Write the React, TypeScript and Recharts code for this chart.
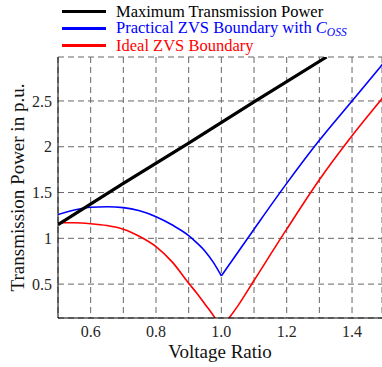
import React from "react";
import {
  LineChart,
  Line,
  XAxis,
  YAxis,
  CartesianGrid,
} from "recharts";

// values
const maxPowerRatio = [0.5, 0.7, 0.9, 1.1, 1.322];
const maxPower = [1.15, 1.6, 2.04, 2.49, 2.98];

const practicalRatio = [0.5, 0.55, 0.6, 0.65, 0.7, 0.75, 0.8, 0.85, 0.9, 0.925, 0.95, 0.975, 1.0, 1.1, 1.2, 1.3, 1.4, 1.5];
const practicalZvs = [1.26, 1.31, 1.34, 1.345, 1.335, 1.3, 1.235, 1.145, 1.03, 0.95, 0.86, 0.74, 0.59, 1.1, 1.6, 2.07, 2.5, 2.93];

const idealRatio = [0.5, 0.55, 0.6, 0.65, 0.7, 0.75, 0.8, 0.85, 0.9, 0.925, 0.95, 0.975, 1.0, 1.05, 1.1, 1.2, 1.3, 1.4, 1.5];
const idealZvs = [1.17, 1.17, 1.16, 1.14, 1.1, 1.02, 0.91, 0.74, 0.51, 0.4, 0.28, 0.16, 0.02, 0.26, 0.54, 1.1, 1.64, 2.12, 2.56];

const xTicks = [0.6, 0.7, 0.8, 0.9, 1.0, 1.1, 1.2, 1.3, 1.4];
const yTicks = [0.5, 1, 1.5, 2, 2.5];

const toPoints = (xs: number[], ys: number[]) => xs.map((x, i) => ({ x, y: ys[i] }));
// the ZVS curves have a sharp corner at ratio 1.0, so each side is drawn on its own
const leftOf = (xs: number[], ys: number[]) => toPoints(xs, ys).filter((p) => p.x <= 1.0);
const rightOf = (xs: number[], ys: number[]) => toPoints(xs, ys).filter((p) => p.x >= 1.0);

const FONT = "Liberation Serif";

const legendRows = [
  { color: "#000000", label: <>Maximum Transmission Power</> },
  {
    color: "#0000ff",
    label: (
      <>
        Practical ZVS Boundary with <i>C</i>
        <i style={{ fontSize: "0.7em", position: "relative", top: "0.3em" }}>OSS</i>
      </>
    ),
  },
  { color: "#ff0000", label: <>Ideal ZVS Boundary</> },
];

const App = () => {
  const tickStyle = { fontFamily: FONT, fontSize: 16, fill: "#262626" };
  const thin = { strokeWidth: 1.6, dot: false, isAnimationActive: false, dataKey: "y", type: "monotone" as const };

  return (
    <div style={{ position: "absolute", left: 0, top: 0, width: 382, height: 367 }}>
      <div style={{ position: "absolute", left: 62, top: 3, fontFamily: FONT, fontSize: 16.5, lineHeight: "17px" }}>
        {legendRows.map((row, i) => (
          <div key={i} style={{ display: "flex", alignItems: "center", height: 17, color: row.color }}>
            <span style={{ display: "inline-block", width: 44, height: 3, background: row.color, marginRight: 10 }} />
            <span style={{ whiteSpace: "nowrap" }}>{row.label}</span>
          </div>
        ))}
      </div>

      <LineChart width={382} height={367} margin={{ top: 57, right: 0, bottom: 9, left: 0 }}>
        <CartesianGrid stroke="#666" strokeDasharray="6 4" strokeWidth={1} />
        <XAxis
          type="number"
          dataKey="x"
          domain={[0.5, 1.4917]}
          allowDataOverflow
          ticks={xTicks}
          interval={0}
          tickFormatter={(v: number) => (Math.round(v * 10) % 2 === 0 ? v.toFixed(1) : "")}
          tickLine={false}
          tickSize={0}
          tickMargin={8}
          height={40}
          axisLine={{ stroke: "#000" }}
          tick={tickStyle}
          label={{
            content: ({ viewBox }: any) => (
              <text
                x={viewBox.x + viewBox.width / 2}
                y={viewBox.y + 40}
                textAnchor="middle"
                style={{ fontFamily: FONT, fontSize: 19, fill: "#111" }}
              >
                Voltage Ratio
              </text>
            ),
          }}
        />
        <XAxis xAxisId="top" orientation="top" type="number" dataKey="x" domain={[0.5, 1.4917]} height={0} tick={false} tickLine={false} axisLine={{ stroke: "#000" }} />
        <YAxis
          type="number"
          domain={[0.13, 2.98]}
          allowDataOverflow
          ticks={yTicks}
          interval={0}
          tickLine={false}
          tickSize={0}
          tickMargin={6}
          width={58}
          axisLine={{ stroke: "#000" }}
          tick={tickStyle}
          label={{
            content: ({ viewBox }: any) => {
              const cx = 17;
              const cy = viewBox.y + viewBox.height / 2;
              return (
                <text
                  x={cx}
                  y={cy}
                  textAnchor="middle"
                  dominantBaseline="central"
                  transform={`rotate(-90 ${cx} ${cy})`}
                  style={{ fontFamily: FONT, fontSize: 19, fill: "#111" }}
                >
                  Transmission Power in p.u.
                </text>
              );
            },
          }}
        />
        <YAxis yAxisId="right" orientation="right" type="number" domain={[0.13, 2.98]} width={0} tick={false} tickLine={false} axisLine={{ stroke: "#000" }} />

        <Line {...thin} data={leftOf(idealRatio, idealZvs)} stroke="#ff0000" />
        <Line {...thin} data={rightOf(idealRatio, idealZvs)} stroke="#ff0000" />
        <Line {...thin} data={leftOf(practicalRatio, practicalZvs)} stroke="#0000ff" />
        <Line {...thin} data={rightOf(practicalRatio, practicalZvs)} stroke="#0000ff" />
        <Line
          data={toPoints(maxPowerRatio, maxPower)}
          dataKey="y"
          type="linear"
          stroke="#000000"
          strokeWidth={3.2}
          dot={false}
          isAnimationActive={false}
        />
      </LineChart>
    </div>
  );
};

export default App;
